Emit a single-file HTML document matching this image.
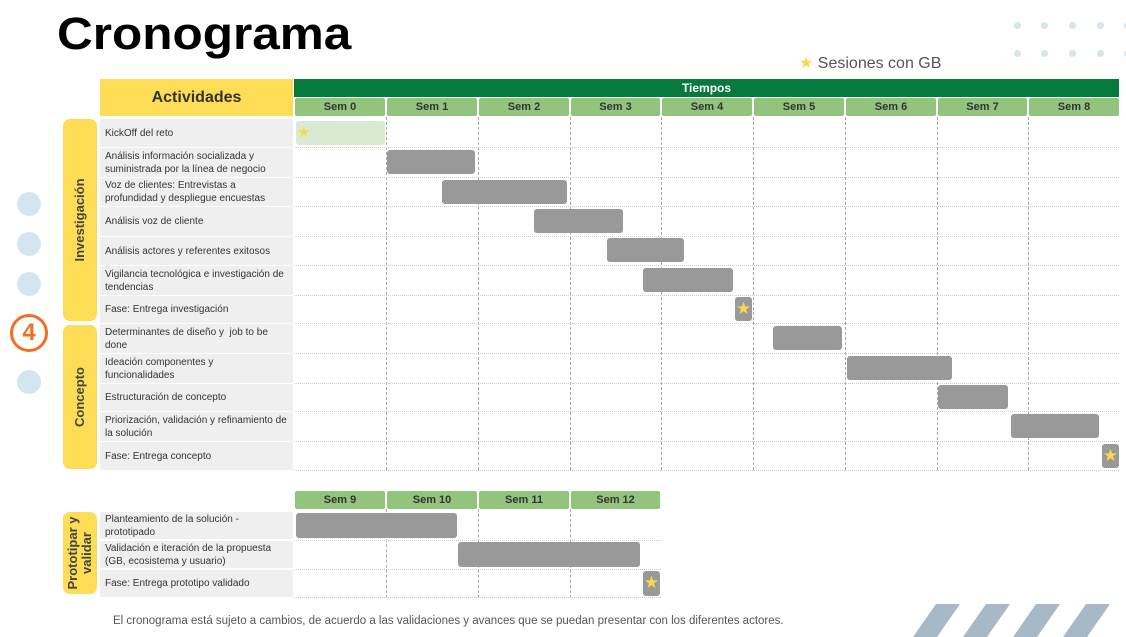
<!DOCTYPE html><html><head><meta charset="utf-8"><style>
body{margin:0;width:1126px;height:637px;position:relative;background:#fff;font-family:"Liberation Sans",sans-serif;overflow:hidden}
div{position:absolute;box-sizing:border-box}
.t{background:#efefef;font-size:10px;color:#333;left:100px;width:193px;padding-left:5px;padding-right:2px;display:flex;align-items:center;line-height:13px}
.sh{background:#93c47d;color:#333;font-weight:bold;font-size:11px;text-align:center;line-height:18px;border-radius:2px;height:18px}
.b{background:#999;border-radius:3px}
.s{background:#999;border-radius:3px;color:#f9d84a;font-size:17px;text-align:center;line-height:24px}
.g{background:#fddd55;border-radius:7px;left:63px;width:34px}
.gl{position:absolute;left:50%;top:50%;transform:translate(-50%,-50%) rotate(-90deg);font-weight:bold;font-size:13px;color:#444;white-space:nowrap;text-align:center;line-height:14px}
.vl{border-left:1px dashed #aaa;width:0}
.hl{border-top:1px dotted #ccc;height:0}
.dot{width:24px;height:24px;border-radius:50%;background:#d5e5f0;left:17px}
.sd{width:7px;height:7px;border-radius:50%;background:#d5e5f0}
</style></head><body>
<div style="left:57px;top:8px;font-size:45px;font-weight:bold;color:#000;transform:scaleX(1.1);transform-origin:left">Cronograma</div>
<div style="left:799px;top:53px;font-size:16px;color:#555"><span style="color:#f9d84a">★</span> Sesiones con GB</div>
<div class="sd" style="left:1014px;top:22px"></div><div class="sd" style="left:1041px;top:22px"></div><div class="sd" style="left:1069px;top:22px"></div><div class="sd" style="left:1097px;top:22px"></div><div class="sd" style="left:1124px;top:22px"></div>
<div class="sd" style="left:1014px;top:50px"></div><div class="sd" style="left:1041px;top:50px"></div><div class="sd" style="left:1069px;top:50px"></div><div class="sd" style="left:1097px;top:50px"></div><div class="sd" style="left:1124px;top:50px"></div>
<div class="dot" style="top:192px"></div><div class="dot" style="top:232px"></div><div class="dot" style="top:272px"></div><div class="dot" style="top:370px"></div>
<div style="left:10px;top:314px;width:38px;height:38px;border:3px solid #f07022;border-radius:50%;color:#f07022;font-weight:bold;font-size:24px;text-align:center;line-height:32px">4</div>
<div style="left:100px;top:79px;width:193px;height:37px;background:#fddd55;font-weight:bold;font-size:16px;color:#333;text-align:center;line-height:37px">Actividades</div>
<div style="left:294px;top:79px;width:825px;height:18px;background:#067a3c;color:#fff;font-weight:bold;font-size:12px;text-align:center;line-height:18px">Tiempos</div>
<div class="sh" style="left:295px;top:98px;width:90px">Sem 0</div>
<div class="sh" style="left:387px;top:98px;width:90px">Sem 1</div>
<div class="sh" style="left:479px;top:98px;width:90px">Sem 2</div>
<div class="sh" style="left:571px;top:98px;width:89px">Sem 3</div>
<div class="sh" style="left:662px;top:98px;width:90px">Sem 4</div>
<div class="sh" style="left:754px;top:98px;width:90px">Sem 5</div>
<div class="sh" style="left:846px;top:98px;width:90px">Sem 6</div>
<div class="sh" style="left:938px;top:98px;width:89px">Sem 7</div>
<div class="sh" style="left:1029px;top:98px;width:90px">Sem 8</div>
<div class="vl" style="left:386px;top:117px;height:353px"></div>
<div class="vl" style="left:478px;top:117px;height:353px"></div>
<div class="vl" style="left:570px;top:117px;height:353px"></div>
<div class="vl" style="left:661px;top:117px;height:353px"></div>
<div class="vl" style="left:753px;top:117px;height:353px"></div>
<div class="vl" style="left:845px;top:117px;height:353px"></div>
<div class="vl" style="left:937px;top:117px;height:353px"></div>
<div class="vl" style="left:1028px;top:117px;height:353px"></div>
<div class="hl" style="left:294px;top:147px;width:825px"></div>
<div class="hl" style="left:294px;top:177px;width:825px"></div>
<div class="hl" style="left:294px;top:206px;width:825px"></div>
<div class="hl" style="left:294px;top:236px;width:825px"></div>
<div class="hl" style="left:294px;top:265px;width:825px"></div>
<div class="hl" style="left:294px;top:295px;width:825px"></div>
<div class="hl" style="left:294px;top:323px;width:825px"></div>
<div class="hl" style="left:294px;top:353px;width:825px"></div>
<div class="hl" style="left:294px;top:383px;width:825px"></div>
<div class="hl" style="left:294px;top:411px;width:825px"></div>
<div class="hl" style="left:294px;top:441px;width:825px"></div>
<div class="hl" style="left:294px;top:470px;width:825px"></div>
<div class="g" style="top:119px;height:202px"><div class="gl">Investigación</div></div>
<div class="g" style="top:325px;height:144px"><div class="gl">Concepto</div></div>
<div class="g" style="top:512px;height:82px"><div class="gl">Prototipar y<br>validar</div></div>
<div class="t" style="top:119px;height:28px">KickOff del reto</div>
<div class="t" style="top:148px;height:29px">Análisis información socializada y suministrada por la línea de negocio</div>
<div class="t" style="top:178px;height:28px">Voz de clientes: Entrevistas a profundidad y despliegue encuestas</div>
<div class="t" style="top:207px;height:29px">Análisis voz de cliente</div>
<div class="t" style="top:237px;height:28px">Análisis actores y referentes exitosos</div>
<div class="t" style="top:266px;height:29px">Vigilancia tecnológica e investigación de tendencias</div>
<div class="t" style="top:296px;height:27px">Fase: Entrega investigación</div>
<div class="t" style="top:324px;height:29px">Determinantes de diseño y&nbsp; job to be done</div>
<div class="t" style="top:354px;height:29px"><span>Ideación componentes y<br>funcionalidades</span></div>
<div class="t" style="top:384px;height:27px">Estructuración de concepto</div>
<div class="t" style="top:412px;height:29px">Priorización, validación y refinamiento de la solución</div>
<div class="t" style="top:442px;height:28px">Fase: Entrega concepto</div>
<div style="left:296px;top:121px;width:89px;height:24px;background:#d9ead3;border-radius:3px;color:#f9d84a;font-size:15px;line-height:24px;padding-left:1px">★</div>
<div class="b" style="left:387px;top:150px;width:88px;height:24px"></div>
<div class="b" style="left:442px;top:180px;width:125px;height:24px"></div>
<div class="b" style="left:534px;top:209px;width:89px;height:24px"></div>
<div class="b" style="left:607px;top:238px;width:77px;height:24px"></div>
<div class="b" style="left:643px;top:268px;width:90px;height:24px"></div>
<div class="s" style="left:735px;top:297px;width:17px;height:24px">★</div>
<div class="b" style="left:773px;top:326px;width:69px;height:24px"></div>
<div class="b" style="left:847px;top:356px;width:105px;height:24px"></div>
<div class="b" style="left:938px;top:385px;width:70px;height:24px"></div>
<div class="b" style="left:1011px;top:414px;width:88px;height:24px"></div>
<div class="s" style="left:1102px;top:444px;width:17px;height:24px">★</div>
<div class="sh" style="left:295px;top:491px;width:90px">Sem 9</div>
<div class="sh" style="left:387px;top:491px;width:90px">Sem 10</div>
<div class="sh" style="left:479px;top:491px;width:90px">Sem 11</div>
<div class="sh" style="left:571px;top:491px;width:89px">Sem 12</div>
<div class="vl" style="left:386px;top:509px;height:89px"></div>
<div class="vl" style="left:478px;top:509px;height:89px"></div>
<div class="vl" style="left:570px;top:509px;height:89px"></div>
<div class="hl" style="left:294px;top:540px;width:367px"></div>
<div class="hl" style="left:294px;top:569px;width:367px"></div>
<div class="hl" style="left:294px;top:597px;width:367px"></div>
<div class="t" style="top:512px;height:27px">Planteamiento de la solución - prototipado</div>
<div class="t" style="top:541px;height:27px">Validación e iteración de la propuesta (GB, ecosistema y usuario)</div>
<div class="t" style="top:570px;height:27px">Fase: Entrega prototipo validado</div>
<div class="b" style="left:296px;top:513px;width:161px;height:25px"></div>
<div class="b" style="left:458px;top:542px;width:182px;height:25px"></div>
<div class="s" style="left:643px;top:571px;width:17px;height:25px">★</div>
<div style="left:113px;top:615px;font-size:11.5px;color:#555">El cronograma está sujeto a cambios, de acuerdo a las validaciones y avances que se puedan presentar con los diferentes actores.</div>
<svg style="position:absolute;left:900px;top:600px" width="226" height="37"><g fill="#a7b8c6">
<polygon points="36,4 60,4 37,37 13,37"/><polygon points="86,4 110,4 87,37 63,37"/><polygon points="136,4 160,4 137,37 113,37"/><polygon points="186,4 210,4 187,37 163,37"/></g></svg>
</body></html>
